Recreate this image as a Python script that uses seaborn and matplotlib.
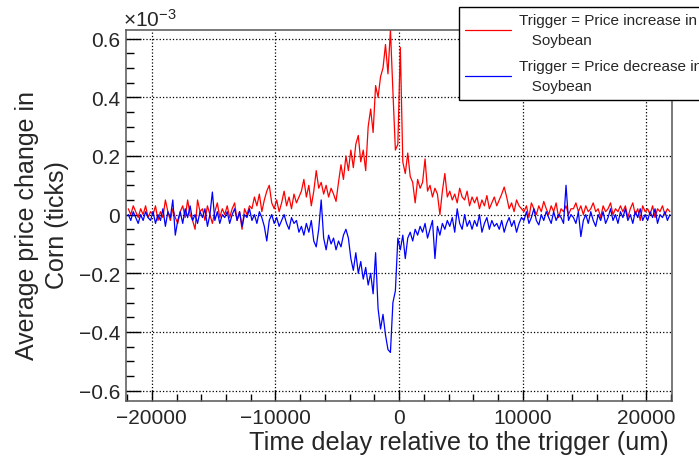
import numpy as np
import pandas as pd
import matplotlib
matplotlib.use("Agg")
import matplotlib.pyplot as plt
from matplotlib.ticker import MultipleLocator, FuncFormatter
import seaborn as sns

# bin centres, 200 units wide, from -22000 to 22000
bin_lo = -22000
bin_width = 200

# average price change in corn (x 1e-3 ticks), trigger = soybean up
increase = [
    0.02, 0.00, 0.03, 0.01, -0.01, 0.02, 0.00, 0.03, -0.01, 0.01,
    0.00, 0.03, -0.02, 0.01, -0.01, 0.05, 0.01, -0.02, 0.02, -0.01,
    -0.03, 0.01, 0.03, -0.01, 0.05, 0.00, -0.02, -0.05, 0.05, 0.01,
    0.02, -0.02, 0.03, 0.00, -0.03, 0.01, 0.04, -0.01, 0.02, 0.00,
    0.03, -0.01, 0.02, 0.04, -0.02, 0.01, -0.05, 0.02, 0.00, 0.03,
    0.02, 0.06, 0.03, 0.07, 0.01, 0.05, 0.08, 0.10, 0.04, 0.02,
    0.05, 0.01, 0.04, 0.08, 0.03, 0.06, 0.02, 0.07, 0.04, 0.06,
    0.08, 0.12, 0.06, 0.10, 0.03, 0.08, 0.15, 0.09, 0.11, 0.07,
    0.10, 0.06, 0.09, 0.07, 0.045, 0.11, 0.17, 0.12, 0.20, 0.15,
    0.22, 0.16, 0.24, 0.27, 0.18, 0.22, 0.15, 0.30, 0.36, 0.28,
    0.44, 0.40, 0.47, 0.50, 0.58, 0.48, 0.63, 0.42, 0.22, 0.24,
    0.57, 0.18, 0.14, 0.21, 0.13, 0.11, 0.04, 0.12, 0.09, 0.11,
    0.19, 0.08, 0.10, 0.06, 0.09, 0.07, 0.00, 0.08, 0.14, 0.06,
    0.08, 0.05, 0.07, 0.04, 0.09, 0.06, 0.05, 0.08, 0.03, 0.06,
    0.04, 0.06, 0.02, 0.05, 0.03, 0.065, 0.02, 0.04, 0.06, 0.03,
    0.05, 0.07, 0.094, 0.06, 0.02, 0.04, 0.01, 0.05, 0.03, 0.02,
    0.01, 0.03, -0.01, 0.04, 0.02, 0.00, 0.03, 0.01, 0.045, 0.02,
    0.00, 0.03, 0.01, 0.04, -0.01, 0.02, 0.01, 0.03, 0.00, 0.02,
    0.02, 0.04, 0.01, 0.03, 0.00, 0.03, 0.01, 0.02, 0.04, 0.01,
    0.02, -0.01, 0.03, 0.01, 0.02, 0.04, 0.00, 0.02, 0.01, 0.03,
    0.01, 0.03, -0.01, 0.02, 0.04, 0.00, 0.02, -0.02, 0.03, 0.01,
    0.02, 0.00, 0.03, -0.01, 0.02, 0.01, 0.03, 0.00, 0.02, 0.01,
]

# trigger = soybean down
decrease = [
    0.00, -0.02, 0.01, -0.01, -0.03, 0.00, -0.02, 0.01, -0.01, -0.02,
    0.01, -0.03, 0.00, -0.02, 0.02, -0.04, 0.01, -0.01, 0.05, -0.07,
    -0.02, 0.01, -0.03, 0.02, -0.01, 0.03, -0.02, 0.00, -0.03, 0.01,
    -0.01, 0.02, -0.04, 0.00, 0.077, -0.02, 0.01, -0.03, 0.00, -0.01,
    0.01, -0.03, 0.00, 0.02, -0.02, 0.01, -0.04, 0.00, -0.01, 0.02,
    -0.02, 0.00, -0.03, 0.01, -0.01, -0.04, -0.09, -0.02, 0.00, -0.03,
    -0.01, -0.04, -0.02, 0.00, -0.03, -0.05, -0.01, -0.03, -0.02, -0.06,
    -0.04, -0.07, -0.03, -0.06, -0.02, -0.09, -0.11, -0.05, 0.05, -0.08,
    -0.12, -0.07, -0.10, -0.08, -0.12, -0.09, -0.11, -0.07, -0.05, -0.08,
    -0.15, -0.19, -0.13, -0.20, -0.16, -0.22, -0.18, -0.24, -0.20, -0.27,
    -0.13, -0.32, -0.39, -0.34, -0.41, -0.46, -0.47, -0.30, -0.26, -0.08,
    -0.12, -0.07, -0.15, -0.08, -0.06, -0.09, -0.05, -0.07, -0.04, -0.06,
    -0.03, -0.08, -0.05, -0.02, -0.15, -0.04, -0.07, -0.03, -0.05, -0.02,
    -0.04, -0.01, -0.06, 0.02, -0.03, -0.05, 0.00, -0.04, -0.02, -0.05,
    -0.02, -0.04, 0.00, -0.06, -0.03, -0.01, -0.05, -0.02, -0.04, -0.03,
    -0.05, -0.02, -0.06, -0.03, -0.01, -0.04, -0.02, -0.06, -0.03, -0.01,
    -0.02, 0.01, -0.03, -0.01, 0.02, -0.02, -0.035, 0.00, -0.02, 0.01,
    -0.01, -0.03, 0.01, -0.02, 0.00, -0.01, -0.03, 0.10, -0.02, 0.00,
    -0.01, -0.03, 0.01, -0.075, -0.02, 0.00, -0.03, 0.01, -0.02, -0.04,
    0.00, -0.02, 0.01, -0.03, -0.01, 0.02, -0.02, 0.00, -0.03, 0.01,
    -0.01, 0.02, -0.02, 0.00, -0.03, 0.01, -0.01, 0.02, -0.02, 0.00,
    -0.02, 0.01, -0.01, 0.02, -0.03, 0.00, -0.01, 0.01, -0.02, 0.00,
]

labels = ["Trigger = Price increase in\n   Soybean",
          "Trigger = Price decrease in\n   Soybean"]


def fmt(v, pos):
    return ("%g" % v).replace("-", "\u2212")


def main():
    n = len(increase)
    x = bin_lo + bin_width / 2 + bin_width * np.arange(n)
    df = pd.DataFrame({
        "x": np.concatenate([x, x]),
        "y": increase + decrease,
        "trig": [labels[0]] * n + [labels[1]] * n,
    })

    sns.set_theme(style="ticks")
    plt.rcParams["font.family"] = ["Liberation Sans", "DejaVu Sans"]
    plt.rcParams["mathtext.default"] = "regular"

    fig = plt.figure(figsize=(6.99, 4.6), dpi=100)
    ax = fig.add_axes([0.18, 0.127, 0.781, 0.806])

    sns.lineplot(data=df, x="x", y="y", hue="trig", estimator=None,
                 palette=["#ff0000", "#0000ff"], linewidth=0.9,
                 legend=False, ax=ax)

    ax.set_xlim(-22100, 22050)
    ax.set_ylim(-0.634, 0.63)
    ax.xaxis.set_major_locator(MultipleLocator(10000))
    ax.xaxis.set_minor_locator(MultipleLocator(2000))
    ax.yaxis.set_major_locator(MultipleLocator(0.2))
    ax.yaxis.set_minor_locator(MultipleLocator(0.05))
    ax.xaxis.set_major_formatter(FuncFormatter(fmt))
    ax.yaxis.set_major_formatter(FuncFormatter(fmt))
    ax.tick_params(axis="both", which="both", direction="in", color="black",
                   labelsize=15, width=1)
    ax.tick_params(axis="y", which="major", length=11, pad=4)
    ax.tick_params(axis="y", which="minor", length=5.5)
    ax.tick_params(axis="x", which="major", length=8, pad=5)
    ax.tick_params(axis="x", which="minor", length=4.8)
    ax.grid(True, which="major", linestyle=":", color="black", linewidth=0.9)
    for s in ax.spines.values():
        s.set_color("#555555")
        s.set_linewidth(1.1)
    ax.set_xlabel("")
    ax.set_ylabel("")

    fig.text(669 / 699, 1 - 443 / 460, "Time delay relative to the trigger (um)",
             ha="right", va="center", fontsize=18.2)
    fig.text(42 / 699, 0.51, "Average price change in\nCorn (ticks)",
             rotation=90, ha="center", va="center", fontsize=18,
             multialignment="center", linespacing=1.3)
    fig.text(123 / 699, 1 - 27 / 460, "\u00d710$^{-3}$", ha="left",
             va="baseline", fontsize=15)

    handles = ax.get_lines()[:2]
    leg = fig.legend(handles, labels, loc="upper left",
                     bbox_to_anchor=(458.7 / 699, 1 - 7.7 / 460),
                     fontsize=11, frameon=True, fancybox=False,
                     edgecolor="black", framealpha=1, borderaxespad=0,
                     handlelength=3.0, handletextpad=0.55, labelspacing=0.75,
                     borderpad=0.4)
    leg.get_frame().set_linewidth(1)
    for t in leg.get_texts():
        t.set_linespacing(1.6)

    fig.savefig("out.png", dpi=100)
    print("done")


if __name__ == "__main__":
    main()
